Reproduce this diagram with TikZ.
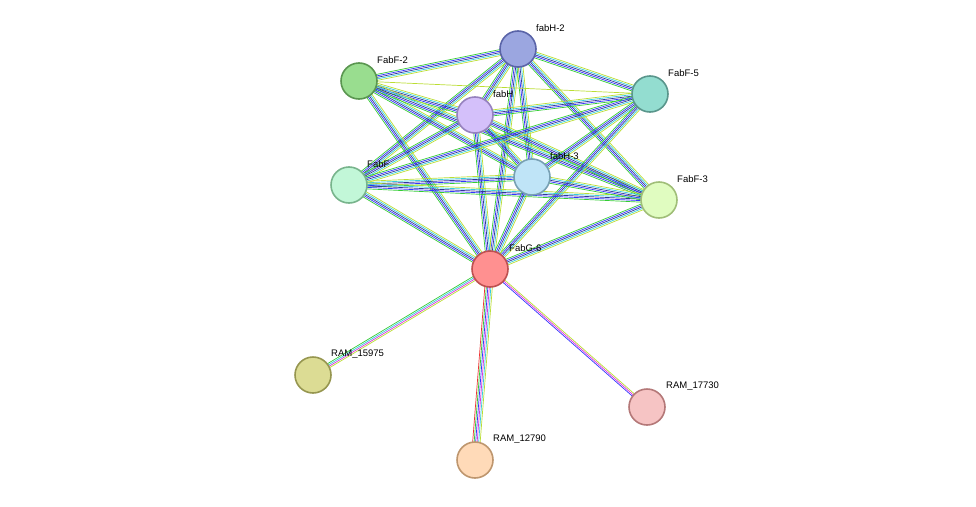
\documentclass[tikz,border=0pt]{standalone}
\usepackage{fontspec}
\setmainfont{Liberation Sans}
\usetikzlibrary{calc}
\definecolor{eg}{HTML}{33CC33}
\definecolor{eb}{HTML}{3333FF}
\definecolor{ek}{HTML}{333399}
\definecolor{em}{HTML}{DD33DD}
\definecolor{ec}{HTML}{33CCDD}
\definecolor{ey}{HTML}{BBDD33}
\definecolor{er}{HTML}{EE3333}
\tikzset{
  prot/.style={circle,draw,line width=1.6pt,minimum size=36pt,inner sep=0pt},
  lab/.style={anchor=west,font=\fontsize{9.5}{10}\selectfont,inner sep=1pt}
}
\newcommand\sedge[4]{% a, b, n, colors
  \foreach \c [count=\i] in {#4} {
    \pgfmathsetmacro\off{(\i-(#3+1)/2)*1.5}
    \draw[\c,line width=0.7pt] ($(#1)!\off pt!90:(#2)$) -- ($(#2)!\off pt!-90:(#1)$);
  }}
\begin{document}
\begin{tikzpicture}[x=1pt,y=-1pt]
\useasboundingbox (0,0) rectangle (976,506);
\coordinate (h2) at (518,49);
\coordinate (f2) at (359,81);
\coordinate (h) at (475,115);
\coordinate (f5) at (650,94);
\coordinate (f) at (349,185);
\coordinate (h3) at (532,177);
\coordinate (f3) at (659,200);
\coordinate (g6) at (490,269);
\coordinate (r1) at (313,375);
\coordinate (r3) at (647,407);
\coordinate (r2) at (475,460);
% clique edges
\foreach \a/\b in {h2/f2,h2/h,h2/f5,h2/f,h2/h3,h2/f3,h2/g6,
  f2/h,f2/h3,f2/f3,f2/g6,
  h/f5,h/f,h/h3,h/f3,h/g6,
  f5/f,f5/h3,f5/g6,
  f/h3,f/f3,f/g6,h3/f3,h3/g6,f3/g6}
  {\sedge{\a}{\b}{5}{eg,eb,ek,ec,ey}}
\sedge{f2}{f5}{1}{ey}
\sedge{g6}{r1}{4}{eg,ec,em,ey}
\sedge{g6}{r2}{6}{er,eg,eb,em,ec,ey}
\sedge{g6}{r3}{3}{eb,em,ey}
% nodes
\node[prot,fill={rgb,255:red,155;green,166;blue,224},draw={rgb,255:red,90;green,100;blue,168}] (nh2) at (h2) {};
\node[prot,fill={rgb,255:red,153;green,221;blue,143},draw={rgb,255:red,90;green,150;blue,80}] (nf2) at (f2) {};
\node[prot,fill={rgb,255:red,212;green,192;blue,250},draw={rgb,255:red,150;green,130;blue,190}] (nh) at (h) {};
\node[prot,fill={rgb,255:red,147;green,221;blue,208},draw={rgb,255:red,90;green,150;blue,140}] (nf5) at (f5) {};
\node[prot,fill={rgb,255:red,194;green,247;blue,216},draw={rgb,255:red,120;green,180;blue,140}] (nf) at (f) {};
\node[prot,fill={rgb,255:red,191;green,228;blue,247},draw={rgb,255:red,120;green,160;blue,180}] (nh3) at (h3) {};
\node[prot,fill={rgb,255:red,224;green,252;blue,192},draw={rgb,255:red,160;green,190;blue,120}] (nf3) at (f3) {};
\node[prot,fill={rgb,255:red,255;green,144;blue,144},draw={rgb,255:red,190;green,80;blue,80}] (ng6) at (g6) {};
\node[prot,fill={rgb,255:red,220;green,220;blue,148},draw={rgb,255:red,150;green,150;blue,80}] (nr1) at (r1) {};
\node[prot,fill={rgb,255:red,246;green,196;blue,196},draw={rgb,255:red,180;green,120;blue,120}] (nr3) at (r3) {};
\node[prot,fill={rgb,255:red,255;green,218;blue,184},draw={rgb,255:red,190;green,150;blue,110}] (nr2) at (r2) {};
% labels
\node[lab] at (535,28) {fabH-2};
\node[lab] at (376,60) {FabF-2};
\node[lab] at (492,94) {fabH};
\node[lab] at (667,73) {FabF-5};
\node[lab] at (366,164) {FabF};
\node[lab] at (549,156) {fabH-3};
\node[lab] at (676,179) {FabF-3};
\node[lab] at (508,248) {FabG-6};
\node[lab] at (330,354) {RAM\_15975};
\node[lab] at (665,386) {RAM\_17730};
\node[lab] at (492,439) {RAM\_12790};
\end{tikzpicture}
\end{document}
